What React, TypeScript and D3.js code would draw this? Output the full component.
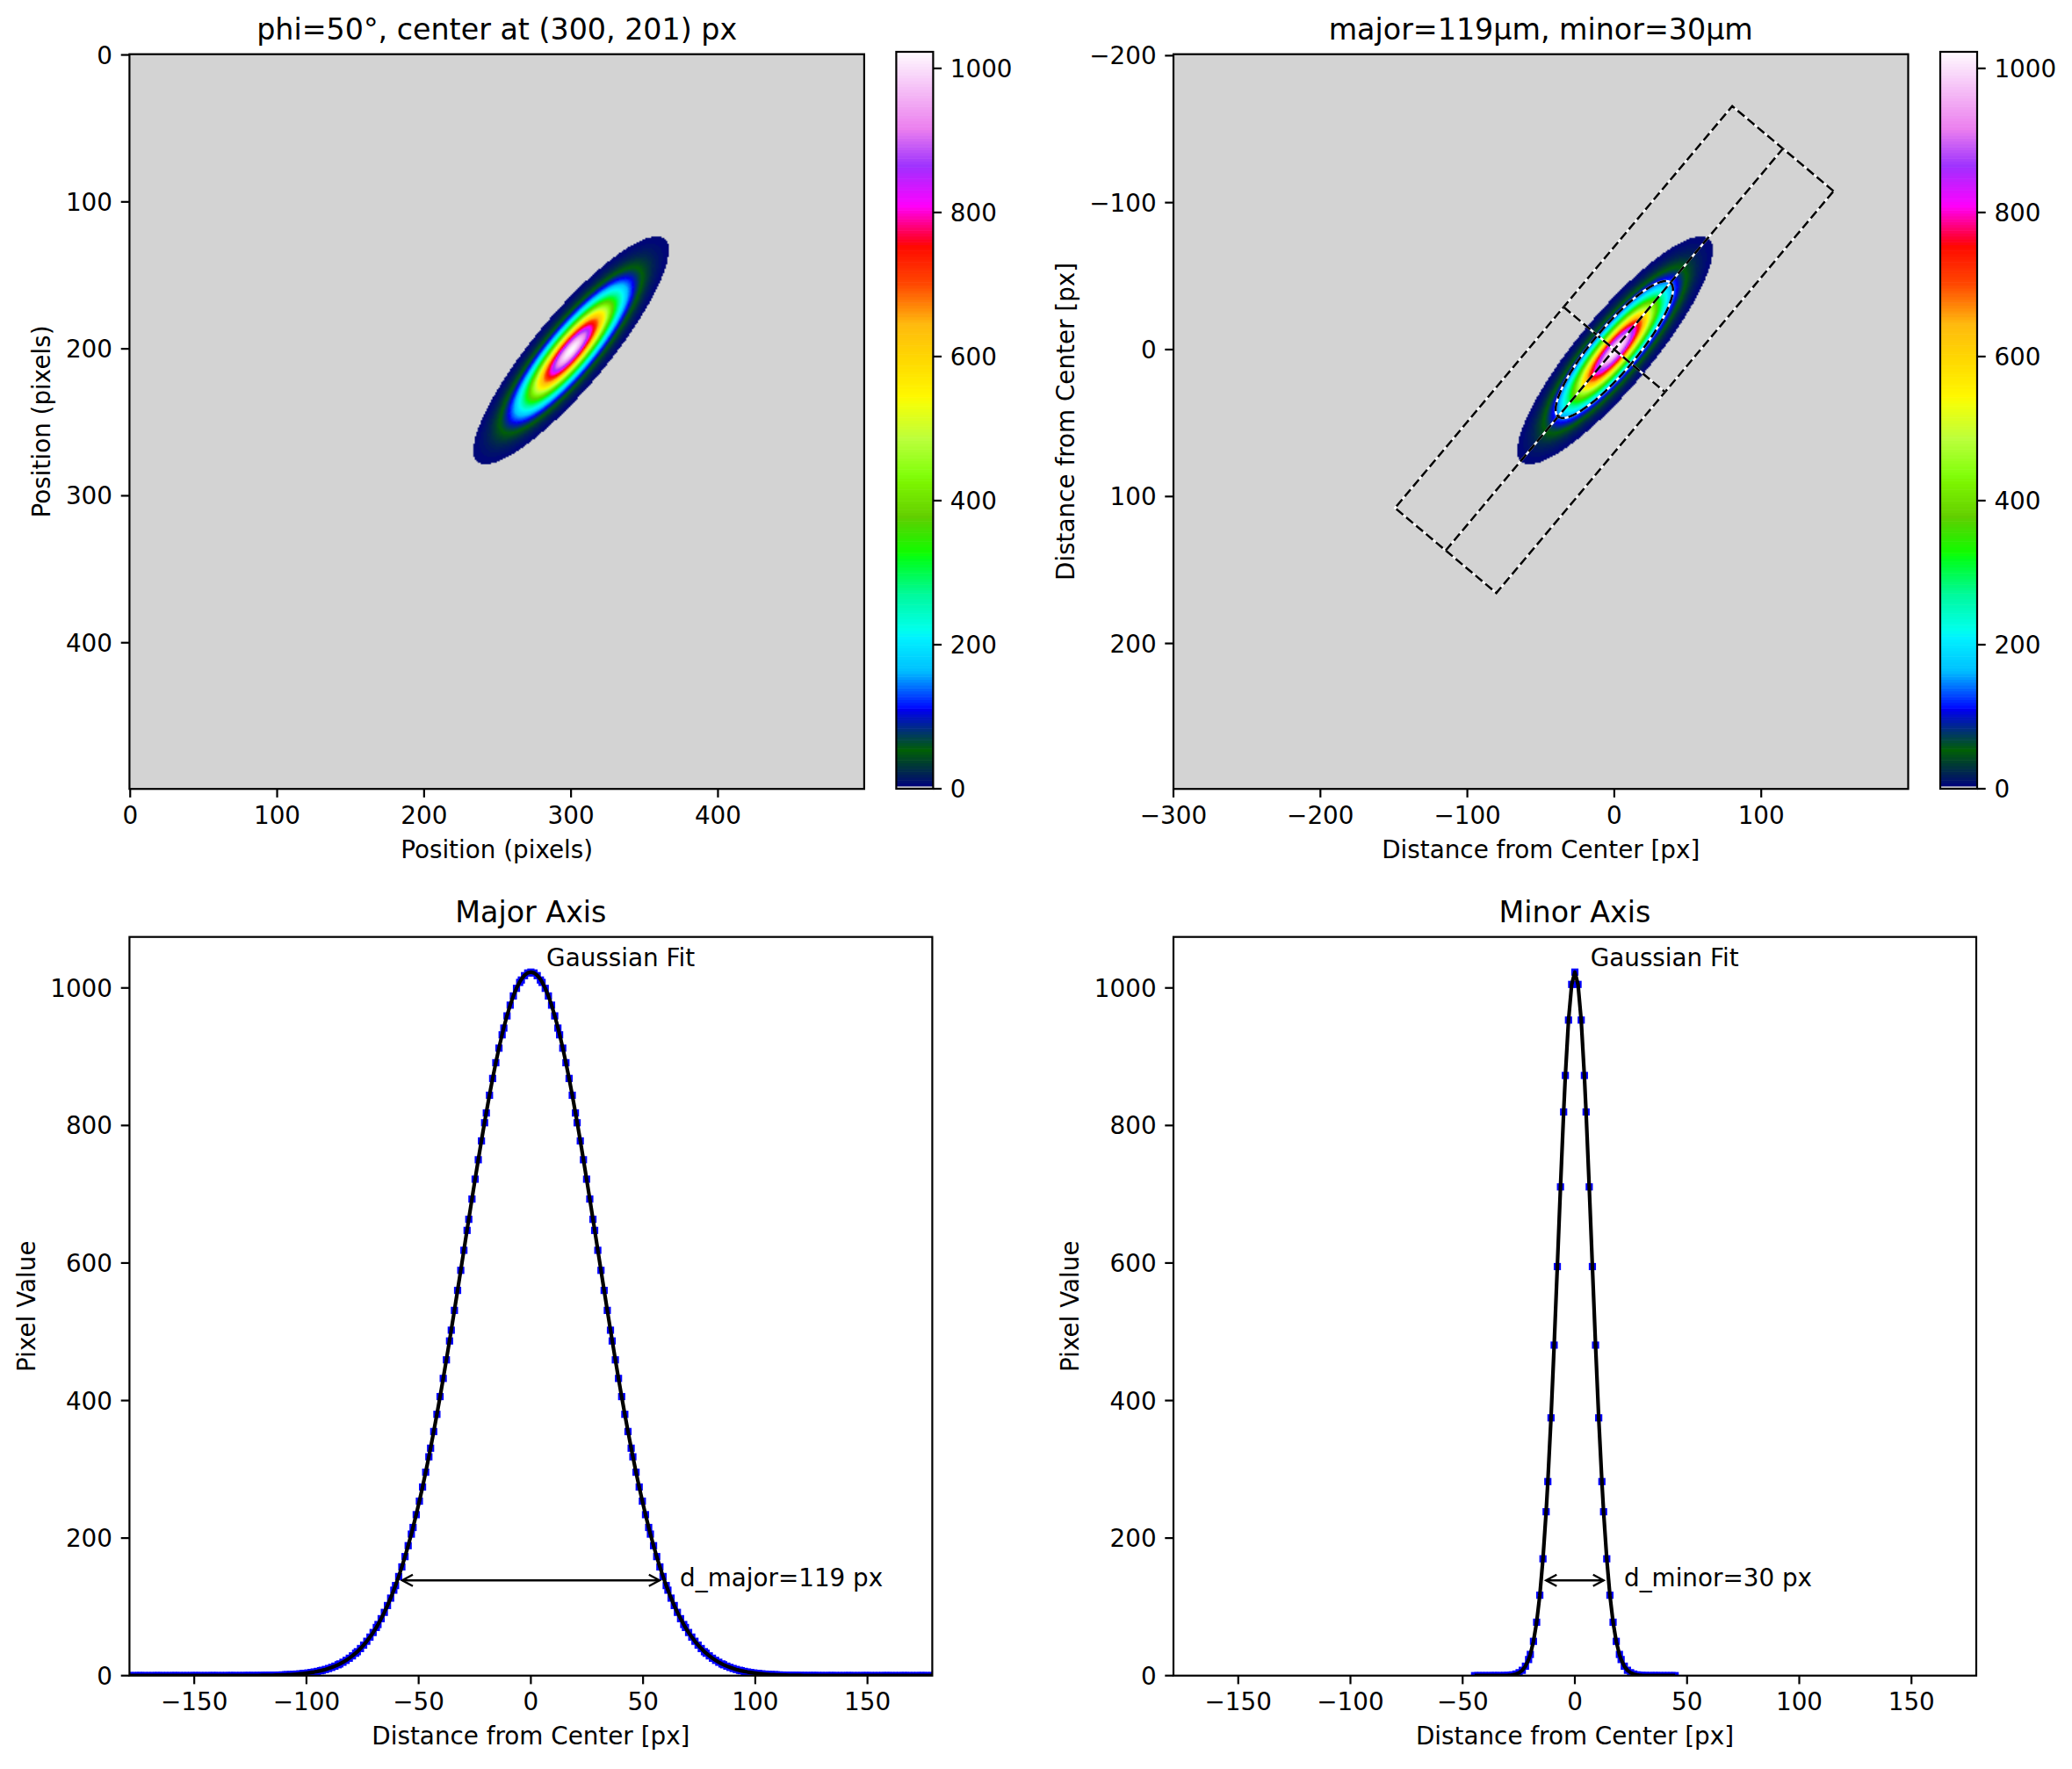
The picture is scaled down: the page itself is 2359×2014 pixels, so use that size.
import React, { useMemo } from 'react';
import * as d3 from 'd3';

// Beam description (pixels)
const beamCenter = [300, 201];
const beamDiameters = [119, 30]; // major, minor
const beamTiltDeg = [50];
const beamPeak = [1023];
const imageShape = [500, 500]; // width, height
const maskDiameters = [3];

// Tick values
const imageTicks = [0, 100, 200, 300, 400];
const centeredXTicks = [-300, -200, -100, 0, 100];
const centeredYTicks = [-200, -100, 0, 100, 200];
const profileXTicks = [-150, -100, -50, 0, 50, 100, 150];
const valueTicks = [0, 200, 400, 600, 800, 1000];

const panelTitles = ['phi=50°, center at (300, 201) px', 'major=119µm, minor=30µm', 'Major Axis', 'Minor Axis'];
const axisLabels = ['Position (pixels)', 'Distance from Center [px]', 'Pixel Value'];
const noteLabels = ['Gaussian Fit', 'd_major=119 px', 'd_minor=30 px'];

// gist_ncar segment data: [position, value]
const ncarRed = [[0, 0], [0.3098, 0], [0.3725, 0.3993], [0.4235, 0.5003], [0.5333, 1], [0.7922, 1], [0.8471, 0.6218], [0.898, 0.9235], [1, 0.9961]];
const ncarGreen = [[0, 0], [0.051, 0.3722], [0.1059, 0], [0.1569, 0.7202], [0.1608, 0.7537], [0.1647, 0.7752], [0.2157, 1], [0.2588, 0.9804], [0.2706, 0.9804], [0.3176, 1], [0.3686, 0.8081], [0.4275, 1], [0.5216, 1], [0.6314, 0.7292], [0.6863, 0.2796], [0.7451, 0], [0.7922, 0], [0.8431, 0.1753], [0.898, 0.5], [1, 0.9725]];
const ncarBlue = [[0, 0.502], [0.051, 0.0222], [0.1098, 1], [0.2039, 1], [0.2627, 0.6145], [0.3216, 0], [0.4157, 0], [0.4745, 0.2342], [0.5333, 0], [0.5804, 0], [0.6314, 0.0549], [0.6902, 0], [0.7373, 0], [0.7922, 0.9738], [0.8, 1], [0.8431, 1], [0.898, 0.9341], [1, 0.9961]];

const W = 2359;
const H = 2014;
const FONT = 'DejaVu Sans';
const FS = 27.8;
const TFS = 33.3;
const TICK = 9.7;
const PAD = 9.7;
const LW = 2.2;
const MARK = 8.2;

const colLeft = [147.4, 1336];
const TOP_Y = 61.7;
const IMG_SIZE = 836.5;
const BOT_Y = 1066.7;
const PW = 914;
const PH = 841;
const CB_DX = 36.5;
const CB_W = 42;
const CB_Y0 = 59;
const CB_Y1 = 898;

interface Sample {
    d: number;
    value: number;
    fit: number;
}

const fmt = (v: number) => (v < 0 ? '\u2212' + Math.abs(v) : String(v));
const labelWidth = (s: string) =>
    s.split('').reduce((w, ch) => w + (ch === '\u2212' ? 0.838 : 0.636), 0) * FS;

const phi = (beamTiltDeg[0] * Math.PI) / 180;
const cosP = Math.cos(phi);
const sinP = Math.sin(phi);
const semiMajor = beamDiameters[0] / 2;
const semiMinor = beamDiameters[1] / 2;

function pixelValue(x: number, y: number) {
    const dx = x - beamCenter[0];
    const dy = y - beamCenter[1];
    const u = dx * cosP - dy * sinP;
    const v = dx * sinP + dy * cosP;
    return beamPeak[0] * Math.exp(-2 * ((u * u) / (semiMajor * semiMajor) + (v * v) / (semiMinor * semiMinor)));
}

// walk one pixel at a time along the dominant direction of the axis
function sampleAxis(dir: [number, number], halfLen: number, radius: number): Sample[] {
    const [ux, uy] = dir;
    const out: Sample[] = [];
    const alongY = Math.abs(uy) >= Math.abs(ux);
    const n = Math.round(halfLen * Math.abs(alongY ? uy : ux));
    for (let k = -n; k <= n; k++) {
        const dy = alongY ? k : Math.round((k * uy) / ux);
        const dx = alongY ? Math.round((k * ux) / uy) : k;
        const t = alongY ? k / uy : k / ux;
        const d = Math.sign(t) * Math.sqrt(dx * dx + dy * dy);
        out.push({
            d,
            value: pixelValue(beamCenter[0] + dx, beamCenter[1] + dy),
            fit: beamPeak[0] * Math.exp((-2 * d * d) / (radius * radius)),
        });
    }
    return out.sort((a, b) => a.d - b.d);
}

function buildLut(): number[][] {
    const ch = (seg: number[][]) =>
        d3.scaleLinear().domain(seg.map((s) => s[0])).range(seg.map((s) => s[1])).clamp(true);
    const r = ch(ncarRed);
    const g = ch(ncarGreen);
    const b = ch(ncarBlue);
    const lut: number[][] = [];
    for (let i = 0; i < 256; i++) {
        const t = i / 255;
        lut.push([Math.round(r(t) * 255), Math.round(g(t) * 255), Math.round(b(t) * 255)]);
    }
    // lowest bin shows as the background grey
    lut[0] = [211, 211, 211];
    return lut;
}

function buildModel() {
    const lut = buildLut();
    const vmax = pixelValue(beamCenter[0], beamCenter[1]);
    const bin = (v: number) => Math.max(0, Math.min(255, Math.floor((v / vmax) * 256)));

    const [iw, ih] = imageShape;
    const canvas = document.createElement('canvas');
    canvas.width = iw;
    canvas.height = ih;
    const ctx = canvas.getContext('2d')!;
    const img = ctx.createImageData(iw, ih);
    for (let j = 0; j < ih; j++) {
        for (let i = 0; i < iw; i++) {
            const c = lut[bin(pixelValue(i, j))];
            const o = (j * iw + i) * 4;
            img.data[o] = c[0];
            img.data[o + 1] = c[1];
            img.data[o + 2] = c[2];
            img.data[o + 3] = 255;
        }
    }
    ctx.putImageData(img, 0, 0);

    const major = sampleAxis([cosP, -sinP], (maskDiameters[0] * beamDiameters[0]) / 2, semiMajor);
    const minor = sampleAxis([sinP, cosP], (maskDiameters[0] * beamDiameters[1]) / 2, semiMinor);
    return { lut, vmax, href: canvas.toDataURL(), major, minor };
}

interface FrameProps {
    x: number;
    y: number;
    w: number;
    h: number;
    xScale: d3.ScaleLinear<number, number>;
    yScale: d3.ScaleLinear<number, number>;
    xTicks: number[];
    yTicks: number[];
    title: string;
    xLabel: string;
    yLabel: string;
}

function Frame({ x, y, w, h, xScale, yScale, xTicks, yTicks, title, xLabel, yLabel }: FrameProps) {
    const tickW = d3.max(yTicks, (t) => labelWidth(fmt(t))) || 0;
    const yLabelX = x - TICK - PAD - tickW - 11.1 - 6.6;
    return (
        <g>
            <rect x={x} y={y} width={w} height={h} fill="none" stroke="#000" strokeWidth={LW} />
            {xTicks.map((t) => (
                <g key={'x' + t}>
                    <line x1={xScale(t)} x2={xScale(t)} y1={y + h} y2={y + h + TICK} stroke="#000" strokeWidth={LW} />
                    <text x={xScale(t)} y={y + h + TICK + PAD + 0.729 * FS} textAnchor="middle" fontSize={FS}>
                        {fmt(t)}
                    </text>
                </g>
            ))}
            {yTicks.map((t) => (
                <g key={'y' + t}>
                    <line x1={x - TICK} x2={x} y1={yScale(t)} y2={yScale(t)} stroke="#000" strokeWidth={LW} />
                    <text x={x - TICK - PAD} y={yScale(t)} dy="0.36em" textAnchor="end" fontSize={FS}>
                        {fmt(t)}
                    </text>
                </g>
            ))}
            <text x={x + w / 2} y={y - 16.7} textAnchor="middle" fontSize={TFS}>
                {title}
            </text>
            <text x={x + w / 2} y={y + h + 78.5} textAnchor="middle" fontSize={FS}>
                {xLabel}
            </text>
            <text
                transform={`translate(${yLabelX},${y + h / 2}) rotate(-90)`}
                textAnchor="middle"
                fontSize={FS}
            >
                {yLabel}
            </text>
        </g>
    );
}

function Colorbar({ x, lut, vmax }: { x: number; lut: number[][]; vmax: number }) {
    const cs = d3.scaleLinear().domain([0, vmax]).range([CB_Y1, CB_Y0]);
    const step = vmax / lut.length;
    return (
        <g>
            {lut.map((c, i) => (
                <rect
                    key={i}
                    x={x}
                    y={cs((i + 1) * step)}
                    width={CB_W}
                    height={cs(i * step) - cs((i + 1) * step) + 0.6}
                    fill={`rgb(${c[0]},${c[1]},${c[2]})`}
                />
            ))}
            <rect x={x} y={CB_Y0} width={CB_W} height={CB_Y1 - CB_Y0} fill="none" stroke="#000" strokeWidth={LW} />
            {valueTicks.map((t) => (
                <g key={t}>
                    <line x1={x + CB_W} x2={x + CB_W + TICK} y1={cs(t)} y2={cs(t)} stroke="#000" strokeWidth={LW} />
                    <text x={x + CB_W + TICK + PAD} y={cs(t)} dy="0.36em" fontSize={FS}>
                        {fmt(t)}
                    </text>
                </g>
            ))}
        </g>
    );
}

function BeamOverlay({ xs, ys }: { xs: d3.ScaleLinear<number, number>; ys: d3.ScaleLinear<number, number> }) {
    const ma: [number, number] = [cosP, -sinP];
    const mi: [number, number] = [sinP, cosP];
    const L = (maskDiameters[0] * beamDiameters[0]) / 2;
    const S = (maskDiameters[0] * beamDiameters[1]) / 2;
    const pt = (a: number, b: number): [number, number] => [a * ma[0] + b * mi[0], a * ma[1] + b * mi[1]];
    const path = d3.line<[number, number]>().x((p) => xs(p[0])).y((p) => ys(p[1]));
    const rect = [pt(L, S), pt(L, -S), pt(-L, -S), pt(-L, S), pt(L, S)];
    const majorLine = [pt(-L, 0), pt(L, 0)];
    const minorLine = [pt(0, -S), pt(0, S)];
    const ellipse = d3.range(0, 201).map((k) => {
        const t = (k / 200) * 2 * Math.PI;
        return pt(semiMajor * Math.cos(t), semiMinor * Math.sin(t));
    });
    const shapes = [rect, majorLine, minorLine, ellipse];
    return (
        <g fill="none">
            {shapes.map((s, i) => (
                <g key={i}>
                    <path d={path(s) || ''} stroke="#fff" strokeWidth={2.5} />
                    <path d={path(s) || ''} stroke="#000" strokeWidth={2.5} strokeDasharray="10.3,4.4" />
                </g>
            ))}
        </g>
    );
}

interface ProfileProps {
    id: string;
    x: number;
    title: string;
    samples: Sample[];
    diameter: number;
    note: string;
    xDomain: [number, number];
    yMax: number;
}

function ProfilePanel({ id, x, title, samples, diameter, note, xDomain, yMax }: ProfileProps) {
    const xs = d3.scaleLinear().domain(xDomain).range([x, x + PW]);
    const ys = d3.scaleLinear().domain([0, yMax]).range([BOT_Y + PH, BOT_Y]);
    const fitLine = d3.line<Sample>().x((s) => xs(s.d)).y((s) => ys(s.fit));
    const r = diameter / 2;
    const ay = ys(beamPeak[0] * Math.exp(-2));
    const xl = xs(-r) + 5.6;
    const xr = xs(r) - 5.6;
    const hl = 12;
    const hw = 6.5;
    return (
        <g>
            <clipPath id={id}>
                <rect x={x} y={BOT_Y} width={PW} height={PH} />
            </clipPath>
            <g clipPath={`url(#${id})`}>
                {samples.map((s, i) => (
                    <rect
                        key={i}
                        x={xs(s.d) - MARK / 2}
                        y={ys(s.value) - MARK / 2}
                        width={MARK}
                        height={MARK}
                        fill="#0000ff"
                    />
                ))}
                <path d={fitLine(samples) || ''} fill="none" stroke="#000" strokeWidth={4.2} strokeLinejoin="round" />
            </g>
            <g fill="none" stroke="#000" strokeWidth={2.4}>
                <path d={`M${xl},${ay}L${xr},${ay}`} />
                <path d={`M${xl + hl},${ay - hw}L${xl},${ay}L${xl + hl},${ay + hw}`} />
                <path d={`M${xr - hl},${ay - hw}L${xr},${ay}L${xr - hl},${ay + hw}`} />
            </g>
            <text x={xs(r) + 17.7} y={ay + 7} fontSize={FS}>
                {note}
            </text>
            <text x={xs(0) + 17.7} y={ys(beamPeak[0]) - 6.6} fontSize={FS}>
                {noteLabels[0]}
            </text>
            <Frame
                x={x}
                y={BOT_Y}
                w={PW}
                h={PH}
                xScale={xs}
                yScale={ys}
                xTicks={profileXTicks}
                yTicks={valueTicks}
                title={title}
                xLabel={axisLabels[1]}
                yLabel={axisLabels[2]}
            />
        </g>
    );
}

export default function App() {
    const model = useMemo(() => buildModel(), []);
    const [iw, ih] = imageShape;

    // left image: pixel coordinates
    const x1 = d3.scaleLinear().domain([-0.5, iw - 0.5]).range([colLeft[0], colLeft[0] + IMG_SIZE]);
    const y1 = d3.scaleLinear().domain([-0.5, ih - 0.5]).range([TOP_Y, TOP_Y + IMG_SIZE]);
    // right image: distance from the beam center
    const x2 = d3.scaleLinear().domain([-beamCenter[0], iw - beamCenter[0]]).range([colLeft[1], colLeft[1] + IMG_SIZE]);
    const y2 = d3.scaleLinear().domain([-beamCenter[1], ih - beamCenter[1]]).range([TOP_Y, TOP_Y + IMG_SIZE]);

    const xDomain = d3.extent(model.major, (s) => s.d) as [number, number];
    const yMax = 1.05 * (d3.max([...model.major, ...model.minor], (s) => Math.max(s.value, s.fit)) || 0);

    return (
        <svg
            width={W}
            height={H}
            style={{ position: 'absolute', left: 0, top: 0, background: '#fff' }}
            fontFamily={FONT}
        >
            <rect width={W} height={H} fill="#fff" />

            <clipPath id="img1">
                <rect x={colLeft[0]} y={TOP_Y} width={IMG_SIZE} height={IMG_SIZE} />
            </clipPath>
            <image
                href={model.href}
                x={x1(-0.5)}
                y={y1(-0.5)}
                width={x1(iw - 0.5) - x1(-0.5)}
                height={y1(ih - 0.5) - y1(-0.5)}
                preserveAspectRatio="none"
                clipPath="url(#img1)"
            />
            <Frame
                x={colLeft[0]}
                y={TOP_Y}
                w={IMG_SIZE}
                h={IMG_SIZE}
                xScale={x1}
                yScale={y1}
                xTicks={imageTicks}
                yTicks={imageTicks}
                title={panelTitles[0]}
                xLabel={axisLabels[0]}
                yLabel={axisLabels[0]}
            />
            <Colorbar x={colLeft[0] + IMG_SIZE + CB_DX} lut={model.lut} vmax={model.vmax} />

            <clipPath id="img2">
                <rect x={colLeft[1]} y={TOP_Y} width={IMG_SIZE} height={IMG_SIZE} />
            </clipPath>
            <g clipPath="url(#img2)">
                <image
                    href={model.href}
                    x={x2(-beamCenter[0])}
                    y={y2(-beamCenter[1])}
                    width={x2(iw - beamCenter[0]) - x2(-beamCenter[0])}
                    height={y2(ih - beamCenter[1]) - y2(-beamCenter[1])}
                    preserveAspectRatio="none"
                />
                <BeamOverlay xs={x2} ys={y2} />
            </g>
            <Frame
                x={colLeft[1]}
                y={TOP_Y}
                w={IMG_SIZE}
                h={IMG_SIZE}
                xScale={x2}
                yScale={y2}
                xTicks={centeredXTicks}
                yTicks={centeredYTicks}
                title={panelTitles[1]}
                xLabel={axisLabels[1]}
                yLabel={axisLabels[1]}
            />
            <Colorbar x={colLeft[1] + IMG_SIZE + CB_DX} lut={model.lut} vmax={model.vmax} />

            <ProfilePanel
                id="majorClip"
                x={colLeft[0]}
                title={panelTitles[2]}
                samples={model.major}
                diameter={beamDiameters[0]}
                note={noteLabels[1]}
                xDomain={xDomain}
                yMax={yMax}
            />
            <ProfilePanel
                id="minorClip"
                x={colLeft[1]}
                title={panelTitles[3]}
                samples={model.minor}
                diameter={beamDiameters[1]}
                note={noteLabels[2]}
                xDomain={xDomain}
                yMax={yMax}
            />
        </svg>
    );
}
